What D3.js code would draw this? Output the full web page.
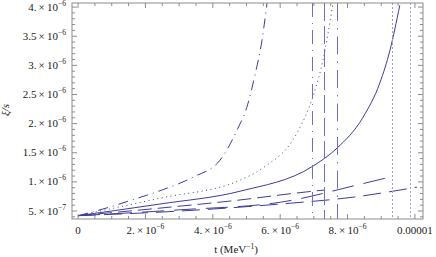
<!DOCTYPE html>
<html>
<head>
<meta charset="utf-8">
<script src="https://cdn.jsdelivr.net/npm/d3@7"></script>
<style>
  body { margin: 0; background: #fff; }
  text { font-family: "Liberation Serif", "DejaVu Serif", serif; fill: #222; }
</style>
</head>
<body>
<div id="chart"></div>
<script>
// values (t in MeV^-1, xi in s)
var tDashDot = [0, 0.95e-6, 1.6e-6, 2.49e-6, 3.41e-6, 4.21e-6, 4.72e-6, 5.01e-6, 5.25e-6, 5.46e-6, 5.61e-6];
var xiDashDot = [4.2e-7, 5.7e-7, 6.9e-7, 8.6e-7, 1.08e-6, 1.37e-6, 1.89e-6, 2.28e-6, 2.83e-6, 3.43e-6, 4.07e-6];

var tDotted = [0, 2.43e-6, 4.81e-6, 5.49e-6, 6.5e-6, 6.97e-6, 7.27e-6, 7.57e-6];
var xiDotted = [4.2e-7, 7.2e-7, 1.03e-6, 1.24e-6, 1.84e-6, 2.46e-6, 3.09e-6, 4.07e-6];

var tSolid = [0, 2.43e-6, 4.81e-6, 6.97e-6, 7.69e-6, 8.46e-6, 8.96e-6, 9.26e-6, 9.55e-6];
var xiSolid = [4.2e-7, 6.2e-7, 8.4e-7, 1.27e-6, 1.58e-6, 2.11e-6, 2.7e-6, 3.26e-6, 4.03e-6];

var tDashA = [0, 2.43e-6, 4.81e-6, 6.5e-6, 7.31e-6];
var xiDashA = [4.2e-7, 5.5e-7, 6.9e-7, 8.1e-7, 8.6e-7];

var tDashB = [0, 3.0e-6, 6.0e-6, 8.31e-6, 9.31e-6];
var xiDashB = [4.2e-7, 5.2e-7, 6.5e-7, 9.5e-7, 1.09e-6];

var tDashC = [0, 3.03e-6, 6.0e-6, 8.2e-6, 10.06e-6];
var xiDashC = [4.2e-7, 5.0e-7, 6.2e-7, 7.4e-7, 9.1e-7];

// vertical asymptote lines
var vLines = [6.93e-6, 7.31e-6, 7.69e-6, 9.31e-6, 9.85e-6];
var vStyles = ["dashdot", "dash", "dashdot2", "dot", "dot"];

var xMajor = [0, 2e-6, 4e-6, 6e-6, 8e-6, 1e-5];
var xMajorLabels = [["0", null], ["2.\u2009\u00d7\u200910", "\u22126"], ["4.\u2009\u00d7\u200910", "\u22126"], ["6.\u2009\u00d7\u200910", "\u22126"], ["8.\u2009\u00d7\u200910", "\u22126"], ["0.00001", null]];
var yMajor = [5e-7, 1e-6, 1.5e-6, 2e-6, 2.5e-6, 3e-6, 3.5e-6, 4e-6];
var yMajorLabels = [["5.\u2009\u00d7\u200910", "\u22127"], ["1.\u2009\u00d7\u200910", "\u22126"], ["1.5\u2009\u00d7\u200910", "\u22126"], ["2.\u2009\u00d7\u200910", "\u22126"], ["2.5\u2009\u00d7\u200910", "\u22126"], ["3.\u2009\u00d7\u200910", "\u22126"], ["3.5\u2009\u00d7\u200910", "\u22126"], ["4.\u2009\u00d7\u200910", "\u22126"]];

var width = 436, height = 257;
var pLeft = 72, pRight = 423, pTop = 3, pBottom = 219;

var svg = d3.select("#chart").append("svg")
    .attr("width", width)
    .attr("height", height);

var x = d3.scaleLinear().domain([-0.18e-6, 10.24e-6]).range([pLeft, pRight]);
var y = d3.scaleLinear().domain([3.63e-7, 4.07e-6]).range([pBottom, pTop]);

var blue = "#3d3d99";
var lightBlue = "#7070c0";
var frameColor = "#8c8c8c";

svg.append("clipPath").attr("id", "clip")
    .append("rect")
    .attr("x", pLeft).attr("y", pTop)
    .attr("width", pRight - pLeft).attr("height", pBottom - pTop);

var plot = svg.append("g").attr("clip-path", "url(#clip)");

var line = d3.line()
    .x(d => x(d[0]))
    .y(d => y(d[1]))
    .curve(d3.curveMonotoneX);

function zip(a, b) { return a.map((v, i) => [v, b[i]]); }

var series = [
    { pts: zip(tDashDot, xiDashDot), dash: "10,5,1,5" },
    { pts: zip(tDotted, xiDotted), dash: "1,3.5" },
    { pts: zip(tSolid, xiSolid), dash: null },
    { pts: zip(tDashA, xiDashA), dash: "14,6" },
    { pts: zip(tDashB, xiDashB), dash: "22,10" },
    { pts: zip(tDashC, xiDashC), dash: "18,8" }
];

plot.selectAll("path.curve")
    .data(series)
    .enter()
    .append("path")
    .attr("class", "curve")
    .attr("d", d => line(d.pts))
    .attr("fill", "none")
    .attr("stroke", blue)
    .attr("stroke-width", 1)
    .attr("stroke-dasharray", d => d.dash);

var dashFor = {
    dashdot: "14,6,1,6",
    dash: "18,5",
    dashdot2: "18,7,1.5,7",
    dot: "2,2"
};

// snap vertical lines to pixel centres so they stay crisp
function px(v) { return Math.round(x(v)) + 0.5; }

plot.selectAll("line.vline")
    .data(vLines)
    .enter()
    .append("line")
    .attr("class", "vline")
    .attr("x1", d => px(d)).attr("x2", d => px(d))
    .attr("y1", pTop).attr("y2", pBottom)
    .attr("stroke", (d, i) => vStyles[i] === "dot" ? "#9c9cd8" : lightBlue)
    .attr("stroke-width", 1)
    .attr("stroke-dasharray", (d, i) => dashFor[vStyles[i]]);

// frame
var frame = svg.append("g");
frame.append("rect")
    .attr("x", pLeft).attr("y", pTop)
    .attr("width", pRight - pLeft).attr("height", pBottom - pTop)
    .attr("fill", "none")
    .attr("stroke", frameColor)
    .attr("stroke-width", 1);

// x ticks (bottom and top)
var xMinor = d3.range(0, 10.25e-6, 0.5e-6);
frame.selectAll("line.xt")
    .data(xMinor)
    .enter()
    .append("line")
    .attr("x1", d => x(d)).attr("x2", d => x(d))
    .attr("y1", pBottom)
    .attr("y2", (d, i) => pBottom - (i % 4 === 0 ? 5 : 3))
    .attr("stroke", frameColor);
frame.selectAll("line.xtt")
    .data(xMinor)
    .enter()
    .append("line")
    .attr("x1", d => x(d)).attr("x2", d => x(d))
    .attr("y1", pTop)
    .attr("y2", (d, i) => pTop + (i % 4 === 0 ? 5 : 3))
    .attr("stroke", frameColor);

// y ticks (left and right)
var yMinor = d3.range(4e-7, 4.05e-6, 1e-7);
frame.selectAll("line.yt")
    .data(yMinor)
    .enter()
    .append("line")
    .attr("y1", d => y(d)).attr("y2", d => y(d))
    .attr("x1", pLeft)
    .attr("x2", (d, i) => pLeft + ((i - 1) % 5 === 0 ? 5 : 3))
    .attr("stroke", frameColor);
frame.selectAll("line.ytr")
    .data(yMinor)
    .enter()
    .append("line")
    .attr("y1", d => y(d)).attr("y2", d => y(d))
    .attr("x1", pRight)
    .attr("x2", (d, i) => pRight - ((i - 1) % 5 === 0 ? 5 : 3))
    .attr("stroke", frameColor);

// tick labels
var xl = svg.selectAll("text.xl")
    .data(xMajor)
    .enter()
    .append("text")
    .attr("class", "xl")
    .attr("x", d => x(d))
    .attr("y", 233.5)
    .attr("text-anchor", "middle")
    .attr("font-size", 11);
xl.append("tspan").text((d, i) => xMajorLabels[i][0]);
xl.filter((d, i) => xMajorLabels[i][1])
    .append("tspan")
    .attr("dy", -5)
    .attr("font-size", 7.5)
    .text(d => xMajorLabels[xMajor.indexOf(d)][1]);

var yl = svg.selectAll("text.yl")
    .data(yMajor)
    .enter()
    .append("text")
    .attr("class", "yl")
    .attr("x", 66)
    .attr("y", d => y(d) + 3.5)
    .attr("text-anchor", "end")
    .attr("font-size", 11);
yl.append("tspan").text((d, i) => yMajorLabels[i][0]);
yl.append("tspan")
    .attr("dy", -5)
    .attr("font-size", 7.5)
    .text((d, i) => yMajorLabels[i][1]);

// axis titles
var xt = svg.append("text")
    .attr("x", 236)
    .attr("y", 253)
    .attr("text-anchor", "middle")
    .attr("font-size", 11);
xt.append("tspan").text("t (MeV");
xt.append("tspan").attr("dy", -4).attr("font-size", 7.5).text("\u22121");
xt.append("tspan").attr("dy", 4).text(")");

svg.append("text")
    .attr("transform", "translate(9,110) rotate(-90)")
    .attr("text-anchor", "middle")
    .attr("font-size", 11)
    .attr("font-style", "italic")
    .text("\u03be/s");
</script>
</body>
</html>
